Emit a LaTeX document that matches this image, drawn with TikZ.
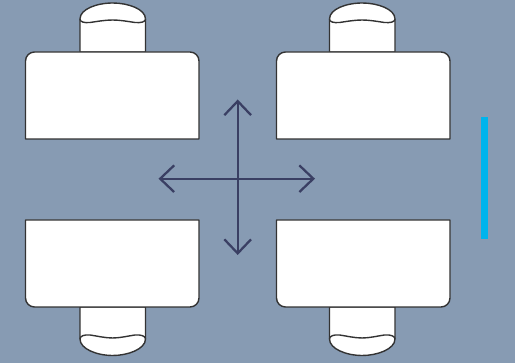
\documentclass[tikz,border=0pt]{standalone}
\usetikzlibrary{arrows.meta}
\definecolor{bgblue}{HTML}{879BB3}
\definecolor{inkline}{HTML}{333333}
\definecolor{arrowink}{HTML}{3A3F63}
\definecolor{barblue}{HTML}{00B4EC}
\tikzset{
  furn/.style={draw=inkline,fill=white,line width=1.05pt,line join=round},
  moveline/.style={draw=arrowink,line width=1.7pt,{Straight Barb[length=10.5pt,width=20pt,line width=1.7pt]}-{Straight Barb[length=10.5pt,width=20pt,line width=1.7pt]}}
}
\begin{document}
\begin{tikzpicture}[x=0.75pt,y=-0.75pt]
\useasboundingbox (0,0) rectangle (515,363);
\fill[bgblue] (0,0) rectangle (515,363);
% top left set
\path[furn] (80,52) -- (80,19) .. controls (80,9) and (97,3) .. (112.7,3) .. controls (128,3) and (145.5,9) .. (145.5,19) -- (145.5,52) -- cycle;
\path[furn] (80,19) .. controls (80,22) and (84,23) .. (90,22.5) .. controls (97,21.5) and (105,20) .. (112.7,20) .. controls (120,20) and (128,21.5) .. (135,22.5) .. controls (141,23) and (145.5,22) .. (145.5,19);
\path[furn] (25.5,139) -- (25.5,61) .. controls (25.5,56) and (29.5,52) .. (34.5,52) -- (190,52) .. controls (195,52) and (199,56) .. (199,61) -- (199,139) -- cycle;
% top right set
\path[furn] (329.5,52) -- (329.5,19) .. controls (329.5,9) and (346.5,3) .. (362.2,3) .. controls (377.5,3) and (395,9) .. (395,19) -- (395,52) -- cycle;
\path[furn] (329.5,19) .. controls (329.5,22) and (333.5,23) .. (339.5,22.5) .. controls (346.5,21.5) and (354.5,20) .. (362.2,20) .. controls (369.5,20) and (377.5,21.5) .. (384.5,22.5) .. controls (390.5,23) and (395,22) .. (395,19);
\path[furn] (276.5,139) -- (276.5,61) .. controls (276.5,56) and (280.5,52) .. (285.5,52) -- (441,52) .. controls (446,52) and (450,56) .. (450,61) -- (450,139) -- cycle;
% bottom left set
\path[furn] (80,307) -- (80,339) .. controls (80,349) and (97,355.5) .. (112.7,355.5) .. controls (128,355.5) and (145.5,349) .. (145.5,339) -- (145.5,307) -- cycle;
\path[furn] (80,339) .. controls (80,336) and (84,334.5) .. (90,335) .. controls (97,336) and (105,338) .. (112.7,338) .. controls (120,338) and (128,336) .. (135,335) .. controls (141,334.5) and (145.5,336) .. (145.5,339);
\path[furn] (25.5,220) -- (25.5,298) .. controls (25.5,303) and (29.5,307) .. (34.5,307) -- (190,307) .. controls (195,307) and (199,303) .. (199,298) -- (199,220) -- cycle;
% bottom right set
\path[furn] (329.5,307) -- (329.5,339) .. controls (329.5,349) and (346.5,355.5) .. (362.2,355.5) .. controls (377.5,355.5) and (395,349) .. (395,339) -- (395,307) -- cycle;
\path[furn] (329.5,339) .. controls (329.5,336) and (333.5,334.5) .. (339.5,335) .. controls (346.5,336) and (354.5,338) .. (362.2,338) .. controls (369.5,338) and (377.5,336) .. (384.5,335) .. controls (390.5,334.5) and (395,336) .. (395,339);
\path[furn] (276.5,220) -- (276.5,298) .. controls (276.5,303) and (280.5,307) .. (285.5,307) -- (441,307) .. controls (446,307) and (450,303) .. (450,298) -- (450,220) -- cycle;
% arrows
\coordinate (up) at (237.7,99.5);
\coordinate (down) at (237.7,255);
\coordinate (left) at (158.5,178.7);
\coordinate (right) at (315,178.7);
\draw[moveline] (up) -- (down);
\draw[moveline] (left) -- (right);
% blue bar
\fill[barblue] (481,117) rectangle (488,239);
\end{tikzpicture}
\end{document}
